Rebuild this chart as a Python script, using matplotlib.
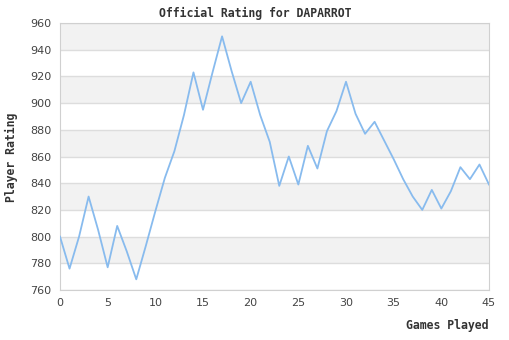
import matplotlib
matplotlib.use('Agg')
import matplotlib.pyplot as plt

# rating after each game
games = list(range(46))
rating = [800, 776, 800, 830, 805, 777, 808, 789, 768, 793,
          819, 844, 864, 891, 923, 895, 923, 950, 924, 900,
          916, 891, 871, 838, 860, 839, 868, 851, 879, 894,
          916, 892, 877, 886, 872, 858, 843, 830, 820, 835,
          821, 834, 852, 843, 854, 839]
yticks = list(range(760, 961, 20))
xticks = list(range(0, 46, 5))

fig = plt.figure(figsize=(5.1, 3.4), dpi=100)
ax = fig.add_axes([60/510, 1-290/340, 429/510, 267/340])

# alternating bands
for lo in range(780, 960, 40):
    ax.axhspan(lo, lo+20, color='#f2f2f2', zorder=0, lw=0)
for y in yticks:
    ax.axhline(y, color='#dddddd', lw=1, zorder=1)

ax.plot(games, rating, color='#88bbee', lw=1.3, zorder=3)

ax.set_xlim(0, 45)
ax.set_ylim(760, 960)
ax.set_xticks(xticks)
ax.set_yticks(yticks)
ax.tick_params(length=0, labelsize=8, labelcolor='#444444', pad=6)
for s in ax.spines.values():
    s.set_color('#d0d0d0')

mono = dict(family='DejaVu Sans Mono', weight='bold', size=8.3, color='#333333')
fig.text(0.5, 1-13/340, 'Official Rating for DAPARROT', ha='center', va='center', **mono)
fig.text(11/510, 1-157/340, 'Player Rating', rotation=90, ha='center', va='center', **mono)
fig.text(489/510, 1-326/340, 'Games Played', ha='right', va='center', **mono)

fig.savefig('out.png', dpi=100)
